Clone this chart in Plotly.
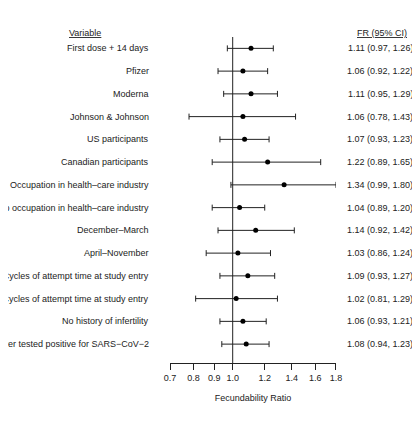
import plotly.graph_objs as go

labels = ['First dose + 14 days', 'Pfizer', 'Moderna', 'Johnson & Johnson',
          'US participants', 'Canadian participants', 'Occupation in health\u2013care industry',
          'No occupation in health\u2013care industry', 'December\u2013March', 'April\u2013November',
          '<3 Cycles of attempt time at study entry', '3\u20136 Cycles of attempt time at study entry',
          'No history of infertility', 'Never tested positive for SARS\u2212CoV\u22122']
fr = [1.11, 1.06, 1.11, 1.06, 1.07, 1.22, 1.34, 1.04, 1.14, 1.03, 1.09, 1.02, 1.06, 1.08]
lo = [0.97, 0.92, 0.95, 0.78, 0.93, 0.89, 0.99, 0.89, 0.92, 0.86, 0.93, 0.81, 0.93, 0.94]
hi = [1.26, 1.22, 1.29, 1.43, 1.23, 1.65, 1.80, 1.20, 1.42, 1.24, 1.27, 1.29, 1.21, 1.23]
ticks = [0.7, 0.8, 0.9, 1.0, 1.2, 1.4, 1.6, 1.8]

n = len(labels)
rows = list(range(1, n + 1))
font = 'Liberation Sans, Arial, sans-serif'

fig = go.Figure()
fig.add_trace(go.Scatter(
    x=fr, y=rows, mode='markers',
    marker=dict(color='black', size=5),
    error_x=dict(type='data', symmetric=False,
                 array=[h - f for h, f in zip(hi, fr)],
                 arrayminus=[f - l for f, l in zip(fr, lo)],
                 color='#222', thickness=1, width=3),
    cliponaxis=False, showlegend=False))

fig.add_shape(type='line', xref='x', yref='paper', x0=1, x1=1, y0=0, y1=1,
              line=dict(color='#222', width=1))

for r, lab, f, l, h in zip(rows, labels, fr, lo, hi):
    fig.add_annotation(x=-0.114, y=r, xref='paper', yref='y', text=lab.replace('<', '&lt;'),
                       showarrow=False, xanchor='right', font=dict(size=9))
    fig.add_annotation(x=1.476, y=r, xref='paper', yref='y', text=f'{f:.2f} ({l:.2f}, {h:.2f})',
                       showarrow=False, xanchor='right', font=dict(size=9))

fig.add_annotation(x=-0.62, y=1.035, xref='paper', yref='paper', text='<u>Variable</u>',
                   showarrow=False, xanchor='left', font=dict(size=9))
fig.add_annotation(x=1.440, y=1.035, xref='paper', yref='paper', text='<u>FR (95% CI)</u>',
                   showarrow=False, xanchor='right', font=dict(size=9))

fig.update_layout(
    width=404, height=405, plot_bgcolor='white', paper_bgcolor='white',
    font=dict(family=font, color='#222', size=9),
    margin=dict(l=162, r=76, t=29, b=32),
    xaxis=dict(type='log', range=[-0.1549, 0.2553], tickvals=ticks,
               ticktext=[f'{t:.1f}' for t in ticks], showgrid=False, zeroline=False,
               showline=True, linecolor='#222', ticks='outside', ticklen=6, tickcolor='#222',
               title=dict(text='Fecundability Ratio', standoff=12, font=dict(size=9))),
    yaxis=dict(range=[14.83, 0.5], visible=False),
)

fig.write_html('out.html')
